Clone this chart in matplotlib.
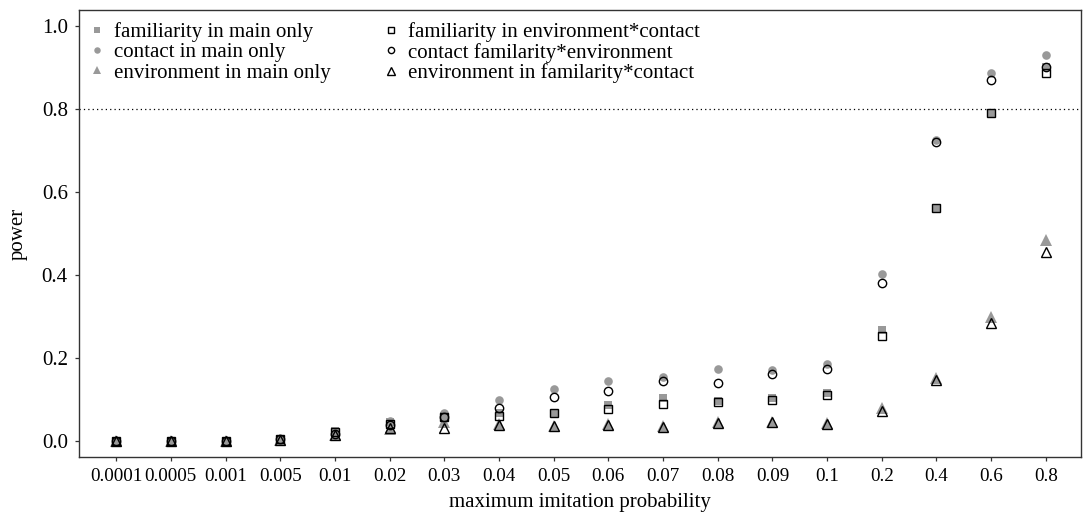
import numpy as np
import matplotlib
matplotlib.use("Agg")
import matplotlib.pyplot as plt


categories = ["0.0001", "0.0005", "0.001", "0.005", "0.01", "0.02", "0.03", "0.04", "0.05",
              "0.06", "0.07", "0.08", "0.09", "0.1", "0.2", "0.4", "0.6", "0.8"]

# main effects only (filled grey)
familiarity_main = [0, 0, 0, 0.006, 0.025, 0.045, 0.060, 0.068, 0.068, 0.087, 0.103, 0.096,
                    0.104, 0.116, 0.268, 0.562, 0.790, 0.902]
contact_main = [0, 0, 0, 0.004, 0.018, 0.047, 0.068, 0.099, 0.125, 0.145, 0.155, 0.173,
                0.171, 0.186, 0.402, 0.726, 0.887, 0.930]
environment_main = [0, 0, 0, 0.003, 0.015, 0.030, 0.045, 0.040, 0.036, 0.040, 0.035, 0.045,
                    0.046, 0.043, 0.080, 0.151, 0.299, 0.485]

# with interactions (open)
familiarity_int = [0, 0, 0, 0.005, 0.022, 0.040, 0.057, 0.060, 0.068, 0.077, 0.088, 0.094,
                   0.100, 0.112, 0.253, 0.561, 0.790, 0.888]
contact_int = [0, 0, 0, 0.004, 0.017, 0.038, 0.058, 0.080, 0.106, 0.120, 0.145, 0.140,
               0.161, 0.173, 0.381, 0.721, 0.870, 0.901]
environment_int = [0, 0, 0, 0.003, 0.014, 0.031, 0.031, 0.039, 0.036, 0.038, 0.034, 0.044,
                   0.045, 0.042, 0.072, 0.148, 0.284, 0.455]

GREY = "#999999"

plt.rcParams["font.family"] = ["Liberation Serif", "DejaVu Serif"]
plt.rcParams["font.size"] = 15

fig = plt.figure(figsize=(10.83, 5.16), dpi=100)
ax = fig.add_axes([0.0729, 0.1143, 0.998 - 0.0729, 0.9806 - 0.1143])

x = np.arange(len(categories))

ax.axhline(0.8, color="black", linestyle=(0, (1, 2.5)), linewidth=0.9, zorder=1)

filled = dict(linestyle="none", color=GREY, markeredgewidth=0, zorder=2)
ax.plot(x, familiarity_main, marker="s", markersize=6.2, label="familiarity in main only", **filled)
ax.plot(x, contact_main, marker="o", markersize=6.2, label="contact in main only", **filled)
ax.plot(x, environment_main, marker="^", markersize=8, label="environment in main only", **filled)

opened = dict(linestyle="none", markerfacecolor="none", markeredgecolor="black",
              markeredgewidth=1.0, zorder=3)
ax.plot(x, familiarity_int, marker="s", markersize=5.6, label="familiarity in environment*contact", **opened)
ax.plot(x, contact_int, marker="o", markersize=6.0, label="contact familarity*environment", **opened)
ax.plot(x, environment_int, marker="^", markersize=7.6, label="environment in familarity*contact", **opened)

ax.set_xlim(-0.68, 17.64)
ax.set_ylim(-0.0386, 1.0386)
ax.set_xticks(x)
ax.set_xticklabels(categories, fontsize=13.8)
ax.set_yticks([0.0, 0.2, 0.4, 0.6, 0.8, 1.0])
ax.set_yticklabels(["0.0", "0.2", "0.4", "0.6", "0.8", "1.0"])
ax.tick_params(direction="out", length=3, width=0.9, color="#333333", pad=5)

for side in ["left", "bottom", "right", "top"]:
    ax.spines[side].set_color("#333333")
    ax.spines[side].set_linewidth(1.0)

ax.set_xlabel("maximum imitation probability", labelpad=6)
ax.set_ylabel("power", labelpad=10)

ax.legend(loc="upper left", ncol=2, frameon=False, markerscale=0.75,
          handlelength=0.6, handletextpad=0.5, columnspacing=2.6,
          labelspacing=0.03, borderpad=0.2, borderaxespad=0.39, fontsize=15)

fig.savefig("out.png", dpi=100)
